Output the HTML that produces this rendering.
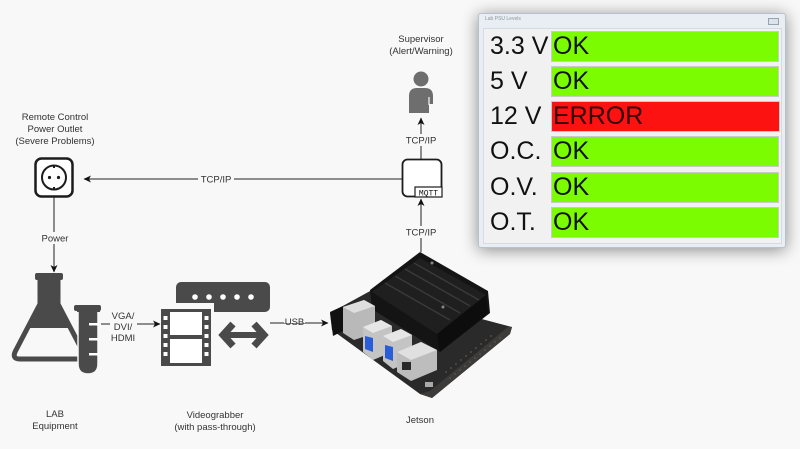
<!DOCTYPE html>
<html><head><meta charset="utf-8">
<style>
html,body{margin:0;padding:0;}
body{width:800px;height:449px;background:#f8f8f8;position:relative;overflow:hidden;font-family:"Liberation Sans",Arial,sans-serif;}
svg{position:absolute;left:0;top:0;}
.win{position:absolute;left:478px;top:13px;width:306px;height:233px;background:#e9eef4;border:1px solid #b9c2cc;border-radius:3px;box-shadow:0 2px 16px rgba(0,0,0,0.45);}
.title{position:absolute;left:6px;top:2px;font-size:5px;color:#8a95a0;}
.btn{position:absolute;right:6px;top:4px;width:9px;height:5px;border:1px solid #9aa3ad;background:#dde3ea;}
.content{position:absolute;left:4px;top:14px;width:297px;height:214px;background:#f1f1f1;border:1px solid #d5dbe2;}
.lbl{position:absolute;left:6px;font-size:25px;color:#111;line-height:31px;height:31px;}
.bar{position:absolute;left:67px;width:225px;height:29px;border:1px solid #c9c9c9;background:#7cfc00;font-size:25px;line-height:29px;color:#111;padding-left:1px;box-sizing:content-box;}
.bar.err{background:#fd1212;color:#300;}
</style></head>
<body>
<svg width="800" height="449" viewBox="0 0 800 449" xmlns="http://www.w3.org/2000/svg" font-family="Liberation Sans, Arial, sans-serif">
<defs>
<marker id="ah" markerWidth="8" markerHeight="8" refX="7" refY="4" orient="auto" markerUnits="userSpaceOnUse">
<path d="M0,0.5 L7.5,4 L0,7.5 L2,4 Z" fill="#111"/>
</marker>
</defs>

<!-- connectors -->
<line x1="402" y1="179" x2="84" y2="179" stroke="#222" stroke-width="1" marker-end="url(#ah)"/>
<rect x="198" y="173" width="36" height="12" fill="#f8f8f8"/>
<text x="216" y="182.5" font-size="9.5" fill="#333" text-anchor="middle">TCP/IP</text>

<line x1="54" y1="197" x2="54" y2="272" stroke="#222" stroke-width="1" marker-end="url(#ah)"/>
<rect x="38" y="232" width="33" height="12" fill="#f8f8f8"/>
<text x="55" y="241.5" font-size="9.5" fill="#333" text-anchor="middle">Power</text>

<line x1="101" y1="324" x2="160" y2="324" stroke="#222" stroke-width="1" marker-end="url(#ah)"/>
<rect x="110" y="309" width="27" height="36" fill="#f8f8f8"/>
<text x="123" y="319" font-size="9.5" fill="#333" text-anchor="middle">VGA/</text>
<text x="123" y="330" font-size="9.5" fill="#333" text-anchor="middle">DVI/</text>
<text x="123" y="341" font-size="9.5" fill="#333" text-anchor="middle">HDMI</text>

<line x1="270" y1="323" x2="328" y2="323" stroke="#222" stroke-width="1" marker-end="url(#ah)"/>
<rect x="284" y="316" width="21" height="7" fill="#f8f8f8"/>
<text x="294.5" y="325" font-size="9.5" fill="#333" text-anchor="middle">USB</text>

<line x1="421" y1="252" x2="421" y2="199" stroke="#222" stroke-width="1" marker-end="url(#ah)"/>
<rect x="404" y="226" width="35" height="12" fill="#f8f8f8"/>
<text x="421" y="235.5" font-size="9.5" fill="#333" text-anchor="middle">TCP/IP</text>

<line x1="421" y1="159" x2="421" y2="118" stroke="#222" stroke-width="1" marker-end="url(#ah)"/>
<rect x="404" y="134" width="35" height="12" fill="#f8f8f8"/>
<text x="421" y="143.5" font-size="9.5" fill="#333" text-anchor="middle">TCP/IP</text>

<!-- outlet labels -->
<text x="55" y="120" font-size="9.5" fill="#333" text-anchor="middle">Remote Control</text>
<text x="55" y="132" font-size="9.5" fill="#333" text-anchor="middle">Power Outlet</text>
<text x="55" y="144" font-size="9.5" fill="#333" text-anchor="middle">(Severe Problems)</text>
<!-- outlet -->
<rect x="35.5" y="158.5" width="37" height="38" rx="6" fill="#fff" stroke="#1c1c1c" stroke-width="2.5"/>
<circle cx="54" cy="177.5" r="12" fill="none" stroke="#1c1c1c" stroke-width="2"/>
<line x1="54" y1="165.5" x2="54" y2="168" stroke="#1c1c1c" stroke-width="2"/>
<line x1="54" y1="187" x2="54" y2="189.5" stroke="#1c1c1c" stroke-width="2"/>
<circle cx="49.5" cy="177.5" r="1.6" fill="#1c1c1c"/>
<circle cx="58.5" cy="177.5" r="1.6" fill="#1c1c1c"/>

<!-- supervisor -->
<text x="421" y="42" font-size="9.5" fill="#333" text-anchor="middle">Supervisor</text>
<text x="421" y="54" font-size="9.5" fill="#333" text-anchor="middle">(Alert/Warning)</text>
<circle cx="421" cy="79" r="7.5" fill="#6e6e6e"/>
<path d="M409,113 L409,96 Q409,88 417,88 L425,88 Q433,88 433,96 L433,104 L429,104 L429,113 Z" fill="#6e6e6e"/>
<line x1="429" y1="97" x2="429" y2="105" stroke="#f8f8f8" stroke-width="1.2"/>

<!-- MQTT box -->
<rect x="402.5" y="159.5" width="39" height="37" rx="5" fill="#fff" stroke="#1c1c1c" stroke-width="1.8"/>
<rect x="415" y="187" width="27" height="10" fill="#fff" stroke="#1c1c1c" stroke-width="1.2"/>
<text x="428.5" y="195.5" font-size="8" fill="#111" text-anchor="middle" font-family="Liberation Mono, monospace">MQTT</text>

<!-- flask -->
<path d="M40,279 L40,304 L16,350 Q11,359 20,359 L78,359 Q86,359 82,350 L58,304 L58,279 Z" fill="#f8f8f8" stroke="#4a4a4a" stroke-width="5" stroke-linejoin="round"/>
<path d="M40,279 L40,304 L28,328 L70,328 L58,304 L58,279 Z" fill="#4a4a4a"/>
<rect x="35" y="273" width="28" height="7" rx="2" fill="#4a4a4a"/>
<rect x="74" y="305" width="27" height="6" rx="2" fill="#4a4a4a"/>
<path d="M78,310 L98,310 L98,364 Q98,374 88,374 Q78,374 78,364 Z" fill="#4a4a4a" stroke="#f8f8f8" stroke-width="1.5"/>
<rect x="77" y="309" width="23" height="3" fill="#4a4a4a"/>
<rect x="89" y="323" width="10" height="2.5" fill="#fff"/>
<rect x="89" y="338" width="10" height="2.5" fill="#fff"/>
<rect x="89" y="353" width="10" height="2.5" fill="#fff"/>
<text x="55" y="417" font-size="9.5" fill="#333" text-anchor="middle">LAB</text>
<text x="55" y="429" font-size="9.5" fill="#333" text-anchor="middle">Equipment</text>

<!-- videograbber -->
<rect x="176" y="282" width="94" height="30" rx="5" fill="#4a4a4a"/>
<rect x="156" y="303" width="58" height="10" fill="#f8f8f8"/>
<circle cx="195" cy="297" r="2.8" fill="#fff"/>
<circle cx="209" cy="297" r="2.8" fill="#fff"/>
<circle cx="223" cy="297" r="2.8" fill="#fff"/>
<circle cx="237" cy="297" r="2.8" fill="#fff"/>
<circle cx="251" cy="297" r="2.8" fill="#fff"/>
<rect x="161" y="309" width="50" height="57" fill="#4a4a4a"/>
<rect x="170" y="312" width="32" height="23" fill="#fff"/>
<rect x="170" y="339" width="32" height="24" fill="#fff"/>
<g fill="#fff">
<rect x="163.5" y="316" width="4" height="4"/><rect x="163.5" y="325" width="4" height="4"/><rect x="163.5" y="334" width="4" height="4"/><rect x="163.5" y="343" width="4" height="4"/><rect x="163.5" y="352" width="4" height="4"/>
<rect x="204.5" y="316" width="4" height="4"/><rect x="204.5" y="325" width="4" height="4"/><rect x="204.5" y="334" width="4" height="4"/><rect x="204.5" y="343" width="4" height="4"/><rect x="204.5" y="352" width="4" height="4"/>
</g>
<g stroke="#4a4a4a" fill="none" stroke-width="7" stroke-linecap="butt" stroke-linejoin="miter">
<polyline points="233,324 223,335 233,346"/>
<polyline points="254,324 264,335 254,346"/>
</g>
<line x1="226" y1="335" x2="261" y2="335" stroke="#4a4a4a" stroke-width="6"/>
<text x="215" y="418" font-size="9.5" fill="#333" text-anchor="middle">Videograbber</text>
<text x="215" y="430" font-size="9.5" fill="#333" text-anchor="middle">(with pass-through)</text>

<!-- jetson -->
<polygon points="330,313 372,290 512,327 510,334 432,398 420,394 332,330" fill="#2b2a2a"/>
<polygon points="420,394 432,398 510,334 512,327 508,327 430,391" fill="#3d3b3a"/>
<g fill="#5a5754">
<circle cx="450" cy="378" r="0.9"/><circle cx="455" cy="374" r="0.9"/><circle cx="460" cy="370" r="0.9"/><circle cx="465" cy="366" r="0.9"/><circle cx="470" cy="362" r="0.9"/><circle cx="475" cy="358" r="0.9"/><circle cx="480" cy="354" r="0.9"/><circle cx="485" cy="350" r="0.9"/><circle cx="490" cy="346" r="0.9"/><circle cx="495" cy="342" r="0.9"/><circle cx="500" cy="338" r="0.9"/>
<circle cx="446" cy="372" r="0.9"/><circle cx="451" cy="368" r="0.9"/><circle cx="456" cy="364" r="0.9"/><circle cx="461" cy="360" r="0.9"/><circle cx="466" cy="356" r="0.9"/><circle cx="471" cy="352" r="0.9"/><circle cx="476" cy="348" r="0.9"/><circle cx="481" cy="344" r="0.9"/><circle cx="486" cy="340" r="0.9"/><circle cx="491" cy="336" r="0.9"/>
</g>
<polygon points="370,290 420,252 488,291 490,313 440,352 372,309" fill="#141414"/>
<polygon points="372,292 420,258 486,295 437,334" fill="#1f1f1f"/>
<g stroke="#3a3a3a" stroke-width="1.3">
<line x1="385" y1="283" x2="450" y2="320"/>
<line x1="395" y1="276" x2="460" y2="313"/>
<line x1="405" y1="269" x2="470" y2="306"/>
<line x1="414" y1="263" x2="479" y2="300"/>
</g>
<polygon points="437,334 486,295 488,313 440,352" fill="#0d0d0d"/>
<circle cx="432" cy="263" r="1.5" fill="#888"/>
<circle cx="443" cy="307" r="1.5" fill="#888"/>
<!-- ports -->
<polygon points="330,312 343,306 345,330 333,336" fill="#111"/>
<polygon points="343,307 364,300 375,306 375,333 354,340 343,333" fill="#b9b9b9"/>
<polygon points="343,307 364,300 375,306 354,313" fill="#dedede"/>
<polygon points="363,327 381,320 392,326 392,352 373,360 363,352" fill="#c4c4c4"/>
<polygon points="365,336 373,338 373,352 365,349" fill="#2a5ed8"/>
<polygon points="363,327 381,320 392,326 373,333" fill="#e6e6e6"/>
<polygon points="383,336 401,329 412,335 412,361 393,369 383,361" fill="#c4c4c4"/>
<polygon points="385,345 393,347 393,361 385,358" fill="#2a5ed8"/>
<polygon points="383,336 401,329 412,335 393,342" fill="#e6e6e6"/>
<polygon points="397,352 421,342 437,350 437,370 411,381 397,372" fill="#bdbdbd"/>
<polygon points="397,352 421,342 437,350 411,360" fill="#e0e0e0"/>
<rect x="402" y="362" width="9" height="8" fill="#2a2a2a"/>
<rect x="425" y="382" width="8" height="5" fill="#aaa"/>
<text x="420" y="423" font-size="9.5" fill="#333" text-anchor="middle">Jetson</text>
</svg>

<div class="win">
  <div class="title">Lab PSU Levels</div>
  <div class="btn"></div>
  <div class="content">
    <div class="lbl" style="top:2px">3.3 V</div>
    <div class="bar" style="top:2px">OK</div>
    <div class="lbl" style="top:37px">5 V</div>
    <div class="bar" style="top:37px">OK</div>
    <div class="lbl" style="top:72px">12 V</div>
    <div class="bar err" style="top:72px;width:226px">ERROR</div>
    <div class="lbl" style="top:107px">O.C.</div>
    <div class="bar" style="top:107px">OK</div>
    <div class="lbl" style="top:143px">O.V.</div>
    <div class="bar" style="top:143px">OK</div>
    <div class="lbl" style="top:178px">O.T.</div>
    <div class="bar" style="top:178px">OK</div>
  </div>
</div>
</body></html>
